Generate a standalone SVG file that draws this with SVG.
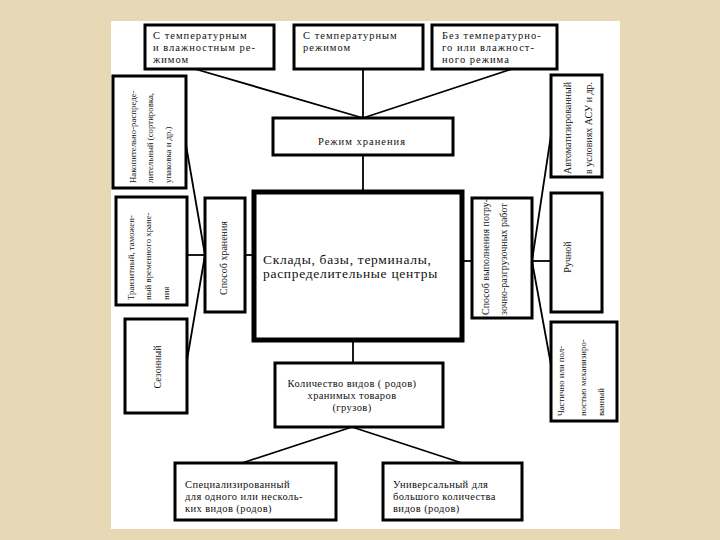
<svg xmlns="http://www.w3.org/2000/svg" width="720" height="540" viewBox="0 0 720 540">
<style>
.bx{fill:#fff;stroke:#000;stroke-width:3}
.bxc{fill:#fff;stroke:#000;stroke-width:5}
.ln{stroke:#000;stroke-width:1.8;fill:none}
text{font-family:"Liberation Serif","Times New Roman",serif;fill:#111}
.t{font-size:10.5px;letter-spacing:0.4px}
.tt{font-size:10.5px;letter-spacing:1px}
.r{font-size:10px}
.rs{font-size:8.8px}
</style>
<rect x="0" y="0" width="720" height="540" fill="#e8d9b6"/>
<rect x="111" y="21" width="509" height="508" fill="#fff"/>
<g id="connectors">
<line class="ln" x1="195" y1="69" x2="363" y2="118"/>
<line class="ln" x1="363" y1="69" x2="363" y2="118"/>
<line class="ln" x1="512" y1="69" x2="363" y2="118"/>
<line class="ln" x1="363" y1="155" x2="363" y2="191"/>
<line class="ln" x1="245" y1="255" x2="253" y2="255"/>
<line class="ln" x1="187" y1="255" x2="205" y2="255"/>
<line class="ln" x1="205" y1="255" x2="186" y2="145"/>
<line class="ln" x1="205" y1="255" x2="187" y2="360"/>
<line class="ln" x1="463" y1="261" x2="472" y2="261"/>
<line class="ln" x1="532" y1="261" x2="551" y2="261"/>
<line class="ln" x1="532" y1="261" x2="551" y2="135"/>
<line class="ln" x1="532" y1="261" x2="551" y2="365"/>
<line class="ln" x1="353" y1="341" x2="353" y2="363"/>
<line class="ln" x1="352" y1="427" x2="242" y2="463"/>
<line class="ln" x1="352" y1="427" x2="462" y2="463"/>
</g>
<g id="n-top1">
<rect class="bx" x="145" y="25" width="129" height="44"/>
<text class="tt" x="153" y="39">С температурным</text>
<text class="tt" x="153" y="51">и влажностным ре-</text>
<text class="tt" x="153" y="63">жимом</text>
</g>
<g id="n-top2">
<rect class="bx" x="294" y="25" width="129" height="44"/>
<text class="tt" x="303" y="39">С температурным</text>
<text class="tt" x="303" y="51">режимом</text>
</g>
<g id="n-top3">
<rect class="bx" x="432" y="25" width="125" height="44"/>
<text class="tt" x="442" y="39">Без температурно-</text>
<text class="tt" x="442" y="51">го или влажност-</text>
<text class="tt" x="442" y="63">ного режима</text>
</g>
<g id="n-regime">
<rect class="bx" x="273" y="118" width="180" height="37"/>
<text class="tt" x="362" y="145" text-anchor="middle">Режим хранения</text>
</g>
<g id="n-center">
<rect class="bxc" x="254" y="192" width="208" height="148"/>
<text x="263" y="264" style="font-size:13.5px;letter-spacing:0.7px">Склады, базы, терминалы,</text>
<text x="263" y="278" style="font-size:13.5px;letter-spacing:0.7px">распределительные центры</text>
</g>
<g id="n-left1">
<rect class="bx" x="113" y="76" width="73" height="112"/>
<text class="rs" transform="translate(136,183) rotate(-90)">Накопительно-распреде-</text>
<text class="rs" transform="translate(153,183) rotate(-90)">лительный (сортировка,</text>
<text class="rs" transform="translate(171,183) rotate(-90)">упаковка и др.)</text>
</g>
<g id="n-left2">
<rect class="bx" x="116" y="197" width="71" height="108"/>
<text class="rs" transform="translate(134,300) rotate(-90)">Транзитный, таможен-</text>
<text class="rs" transform="translate(151,300) rotate(-90)">ный временного хране-</text>
<text class="rs" transform="translate(169,300) rotate(-90)">ния</text>
</g>
<g id="n-left3">
<rect class="bx" x="125" y="319" width="62" height="94"/>
<text class="r" transform="translate(161,367) rotate(-90)" text-anchor="middle">Сезонный</text>
</g>
<g id="n-storage">
<rect class="bx" x="205" y="198" width="40" height="114"/>
<text class="r" transform="translate(227,258) rotate(-90)" text-anchor="middle">Способ хранения</text>
</g>
<g id="n-loading">
<rect class="bx" x="472" y="198" width="60" height="120"/>
<text class="r" transform="translate(489,315) rotate(-90)">Способ выполнения погру-</text>
<text class="r" transform="translate(507,315) rotate(-90)">зочно-разгрузочных работ</text>
</g>
<g id="n-right1">
<rect class="bx" x="551" y="75" width="51" height="102"/>
<text class="r" transform="translate(571,174) rotate(-90)">Автоматизированный</text>
<text class="r" transform="translate(592,174) rotate(-90)">в условиях АСУ и др.</text>
</g>
<g id="n-right2">
<rect class="bx" x="551" y="193" width="51" height="119"/>
<text class="r" transform="translate(571,257) rotate(-90)" text-anchor="middle">Ручной</text>
</g>
<g id="n-right3">
<rect class="bx" x="551" y="322" width="66" height="99"/>
<text class="rs" transform="translate(564,416) rotate(-90)">Частично или пол-</text>
<text class="rs" transform="translate(586,416) rotate(-90)">ностью механизиро-</text>
<text class="rs" transform="translate(604,416) rotate(-90)">ванный</text>
</g>
<g id="n-count">
<rect class="bx" x="275" y="363" width="168" height="64"/>
<text class="t" x="352" y="387" text-anchor="middle">Количество видов ( родов)</text>
<text class="t" x="352" y="399" text-anchor="middle">хранимых товаров</text>
<text class="t" x="352" y="411" text-anchor="middle">(грузов)</text>
</g>
<g id="n-special">
<rect class="bx" x="175" y="463" width="161" height="57"/>
<text class="t" x="185" y="488">Специализированный</text>
<text class="t" x="185" y="500">для одного или несколь-</text>
<text class="t" x="185" y="512">ких видов (родов)</text>
</g>
<g id="n-universal">
<rect class="bx" x="383" y="463" width="139" height="57"/>
<text class="t" x="393" y="488">Универсальный для</text>
<text class="t" x="393" y="500">большого количества</text>
<text class="t" x="393" y="512">видов (родов)</text>
</g>
</svg>
